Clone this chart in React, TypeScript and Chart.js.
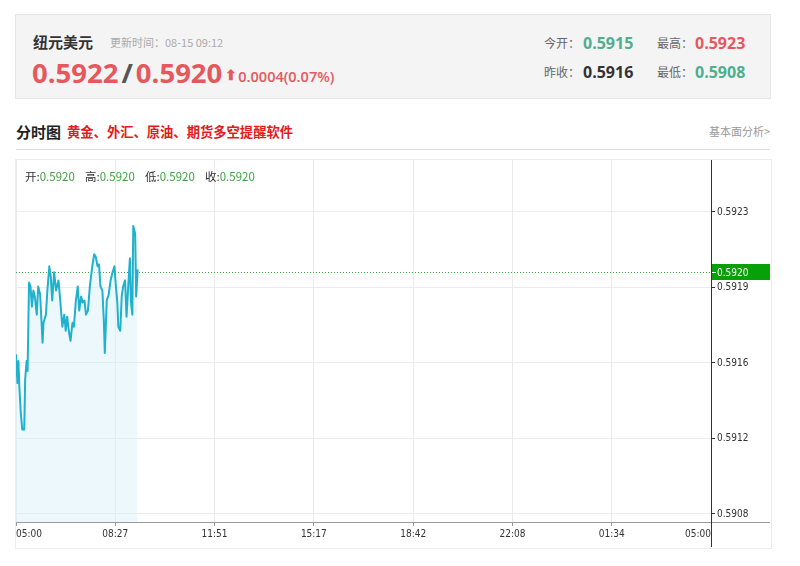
import React, { useEffect, useRef } from 'react';
import { Chart, registerables } from 'chart.js';
Chart.register(...registerables);

// minutes elapsed since 05:00
const minutes = [0, 3, 5, 7, 10, 13, 17, 19, 22, 24, 27, 30, 33, 36, 39, 43, 46, 50, 55, 57, 62, 65, 69, 72, 75, 79, 83, 88, 91, 96, 100, 103, 106, 110, 113, 117, 120, 124, 128, 131, 135, 138, 142, 145, 149, 153, 158, 162, 165, 169, 172, 175, 179, 182, 184, 188, 192, 196, 200, 204, 207, 210, 212, 216, 219, 222, 226, 229, 233, 236, 238, 241, 243, 247, 249, 252];
const prices = [0.59159, 0.59145, 0.59156, 0.59143, 0.5913, 0.59122, 0.59122, 0.59147, 0.59156, 0.59151, 0.59195, 0.59193, 0.59183, 0.59191, 0.59188, 0.59179, 0.59193, 0.59189, 0.59165, 0.59175, 0.59179, 0.59191, 0.59203, 0.59198, 0.59186, 0.592, 0.59191, 0.59196, 0.59188, 0.59173, 0.59179, 0.59171, 0.59178, 0.5917, 0.59166, 0.59175, 0.59173, 0.59186, 0.59193, 0.59181, 0.59188, 0.59185, 0.59186, 0.59179, 0.59181, 0.59193, 0.59203, 0.59209, 0.59208, 0.59203, 0.59204, 0.59193, 0.59191, 0.59176, 0.5916, 0.59186, 0.59189, 0.59196, 0.592, 0.59203, 0.59193, 0.59185, 0.59173, 0.59171, 0.59188, 0.59193, 0.59196, 0.59178, 0.59195, 0.59207, 0.59186, 0.59179, 0.59223, 0.59219, 0.59188, 0.59201];

const xTickLabels = ['05:00', '08:27', '11:51', '15:17', '18:42', '22:08', '01:34', '05:00'];
const xTotalMinutes = 1440;
const yTickLabels = ['0.5908', '0.5912', '0.5916', '0.5919', '0.5923'];
const yTickLow = 0.5908;
const yTickHigh = 0.5923;
const yMin = 0.59076;
const yMax = 0.592558;
const currentPrice = 0.592;
const currentLabel = '0.5920';

const ohlcLabels = ['开', '高', '低', '收'];
const ohlcValues = ['0.5920', '0.5920', '0.5920', '0.5920'];

const RED = '#e5585d';
const GREEN = '#4fae8d';
const TICK_FONT = "'DejaVu Sans Condensed', 'DejaVu Sans', sans-serif";
const CJK = "'Noto Sans CJK SC', 'Noto Sans', sans-serif";
const NUM = "'Open Sans', 'Noto Sans', sans-serif";

const extras = {
  id: 'extras',
  beforeDatasetsDraw(chart: any) {
    const { ctx, chartArea } = chart;
    const y = Math.round(chart.scales.y.getPixelForValue(currentPrice)) + 0.5;
    ctx.save();
    ctx.strokeStyle = '#3aa83a';
    ctx.lineWidth = 1;
    ctx.setLineDash([1, 2]);
    ctx.beginPath();
    ctx.moveTo(chartArea.left, y);
    ctx.lineTo(chartArea.right, y);
    ctx.stroke();
    ctx.restore();
  },
  afterDraw(chart: any) {
    const { ctx, chartArea, width, height } = chart;
    ctx.save();
    ctx.strokeStyle = '#9a9a9a';
    ctx.lineWidth = 1;
    ctx.beginPath();
    ctx.moveTo(chartArea.left, Math.round(chartArea.bottom) + 0.5);
    ctx.lineTo(width, Math.round(chartArea.bottom) + 0.5);
    ctx.stroke();
    ctx.strokeStyle = '#333';
    ctx.beginPath();
    ctx.moveTo(Math.round(chartArea.right) + 0.5, 0);
    ctx.lineTo(Math.round(chartArea.right) + 0.5, height);
    ctx.stroke();
    const y = Math.round(chart.scales.y.getPixelForValue(currentPrice));
    ctx.fillStyle = '#08a008';
    ctx.fillRect(chartArea.right + 1, y - 8, width - chartArea.right - 1, 16);
    ctx.strokeStyle = '#fff';
    ctx.beginPath();
    ctx.moveTo(chartArea.right + 1, y + 0.5);
    ctx.lineTo(chartArea.right + 5, y + 0.5);
    ctx.stroke();
    ctx.fillStyle = '#fff';
    ctx.font = `10px ${TICK_FONT}`;
    ctx.textBaseline = 'middle';
    ctx.textAlign = 'left';
    ctx.fillText(currentLabel, chartArea.right + 6, y + 1);
    ctx.restore();
  },
};

function PriceChart() {
  const ref = useRef<HTMLCanvasElement>(null);
  useEffect(() => {
    if (!ref.current) return;
    const data = minutes.map((m, i) => ({ x: m, y: prices[i] }));
    const chart = new Chart(ref.current, {
      type: 'line',
      data: {
        datasets: [
          {
            data,
            borderColor: '#1fb1cd',
            borderWidth: 2,
            borderJoinStyle: 'round',
            borderCapStyle: 'round',
            backgroundColor: 'rgba(215,240,250,0.45)',
            fill: 'start',
            pointRadius: 0,
            tension: 0,
          },
        ],
      },
      options: {
        animation: false,
        responsive: false,
        maintainAspectRatio: false,
        layout: { padding: 0 },
        plugins: { legend: { display: false }, tooltip: { enabled: false } },
        scales: {
          x: {
            type: 'linear',
            min: 0,
            max: xTotalMinutes,
            afterBuildTicks: (s: any) => {
              s.ticks = xTickLabels.map((_, i) => ({ value: (xTotalMinutes / (xTickLabels.length - 1)) * i }));
            },
            afterFit: (s: any) => {
              s.height = 25;
              s.paddingLeft = 0;
              s.paddingRight = 0;
            },
            border: { display: false },
            grid: { color: '#ebebeb', tickColor: '#9a9a9a', tickLength: 4 },
            ticks: {
              align: 'inner',
              maxRotation: 0,
              autoSkip: false,
              padding: 2,
              color: '#333',
              font: { family: TICK_FONT, size: 10 },
              callback: (_v: any, i: number) => xTickLabels[i],
            },
          },
          y: {
            position: 'right',
            min: yMin,
            max: yMax,
            afterBuildTicks: (s: any) => {
              const n = yTickLabels.length - 1;
              s.ticks = yTickLabels.map((_, i) => ({ value: yTickLow + ((yTickHigh - yTickLow) / n) * i }));
            },
            afterFit: (s: any) => {
              s.width = 59;
              s.paddingTop = 0;
              s.paddingBottom = 0;
            },
            border: { display: false },
            grid: { color: '#ebebeb', tickColor: '#333', tickLength: 4 },
            ticks: {
              padding: 2,
              color: '#333',
              font: { family: TICK_FONT, size: 10 },
              callback: (_v: any, i: number) => yTickLabels[i],
            },
          },
        },
      },
      plugins: [extras],
    });
    return () => chart.destroy();
  }, []);
  return <canvas ref={ref} width={754} height={387} style={{ position: 'absolute', left: 16, top: 160, width: 754, height: 387 }} />;
}

export default function App() {
  const label = { color: '#666', fontSize: 12, fontFamily: CJK };
  const abs = (x: number, y: number): React.CSSProperties => ({ position: 'absolute', left: x, top: y, whiteSpace: 'nowrap', lineHeight: 1 });
  return (
    <div style={{ position: 'fixed', left: 0, top: 0, width: 800, height: 566, background: '#fff', overflow: 'hidden' }}>
      <div style={{ position: 'absolute', left: 15, top: 14, width: 754, height: 83, background: '#f4f4f4', border: '1px solid #e6e6e6' }} />
      <div style={{ ...abs(33, 34), fontFamily: CJK, fontWeight: 700, fontSize: 15, color: '#333' }}>纽元美元</div>
      <div style={{ ...abs(110, 37), fontFamily: CJK, fontSize: 11, color: '#aaa' }}>更新时间：08-15 09:12</div>
      <div style={{ ...abs(32, 59), fontFamily: NUM, fontWeight: 700, fontSize: 27.5, color: RED }}>
        0.5922<span style={{ color: '#555', margin: '0 3px' }}>/</span>0.5920
        <span style={{ fontSize: 14, marginLeft: 3, position: 'relative', top: -3 }}>⬆</span>
        <span style={{ fontSize: 14.5, fontWeight: 600, marginLeft: 1, position: 'relative', top: -1 }}>0.0004(0.07%)</span>
      </div>
      <div style={{ ...abs(544, 37), ...label }}>今开：</div>
      <div style={{ ...abs(583, 35), fontFamily: NUM, fontWeight: 700, fontSize: 16, color: GREEN }}>0.5915</div>
      <div style={{ ...abs(657, 37), ...label }}>最高：</div>
      <div style={{ ...abs(695, 35), fontFamily: NUM, fontWeight: 700, fontSize: 16, color: RED }}>0.5923</div>
      <div style={{ ...abs(544, 66), ...label }}>昨收：</div>
      <div style={{ ...abs(583, 64), fontFamily: NUM, fontWeight: 700, fontSize: 16, color: '#333' }}>0.5916</div>
      <div style={{ ...abs(657, 66), ...label }}>最低：</div>
      <div style={{ ...abs(695, 64), fontFamily: NUM, fontWeight: 700, fontSize: 16, color: GREEN }}>0.5908</div>

      <div style={{ ...abs(16, 124), fontFamily: CJK, fontWeight: 700, fontSize: 15, color: '#222' }}>分时图</div>
      <div style={{ ...abs(67, 125), fontFamily: CJK, fontWeight: 700, fontSize: 13.3, color: '#e21b1b' }}>黄金、外汇、原油、期货多空提醒软件</div>
      <div style={{ position: 'absolute', right: 30, top: 126, whiteSpace: 'nowrap', lineHeight: 1, fontFamily: CJK, fontSize: 11, color: '#999' }}>基本面分析&gt;</div>
      <div style={{ position: 'absolute', left: 16, top: 149, width: 754, height: 1, background: '#dcdcdc' }} />

      <div style={{ position: 'absolute', left: 15, top: 159, width: 755, height: 388, border: '1px solid #ececec' }} />
      <PriceChart />
      {ohlcLabels.map((l, i) => (
        <div key={i} style={{ ...abs(25 + 60 * i, 171), fontFamily: CJK, fontSize: 11.5 }}>
          <span style={{ color: '#333' }}>{l}:</span>
          <span style={{ color: '#3ea13e' }}>{ohlcValues[i]}</span>
        </div>
      ))}
    </div>
  );
}
